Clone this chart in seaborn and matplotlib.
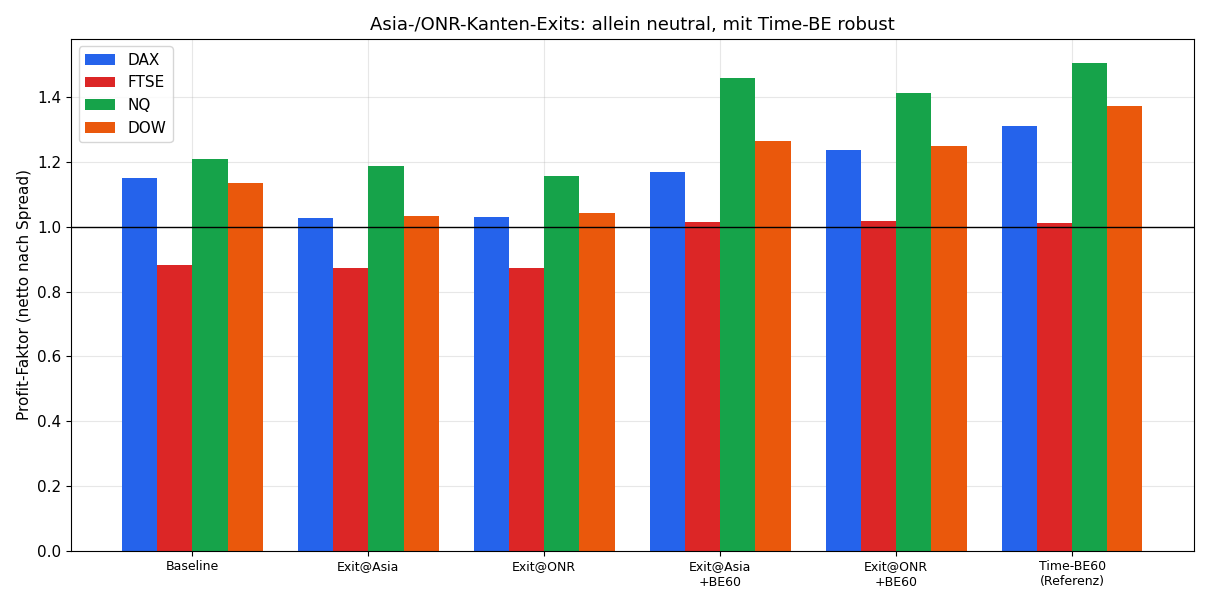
import numpy as np
import pandas as pd
import matplotlib
matplotlib.use('Agg')
import matplotlib.pyplot as plt
import seaborn as sns

plt.rcParams['font.size'] = 11

# Varianten und Profit-Faktoren (netto nach Spread)
variants = ['Baseline', 'Exit@Asia', 'Exit@ONR', 'Exit@Asia\n+BE60', 'Exit@ONR\n+BE60', 'Time-BE60\n(Referenz)']
markets = ['DAX', 'FTSE', 'NQ', 'DOW']
pf_dax = [1.149, 1.028, 1.031, 1.168, 1.236, 1.310]
pf_ftse = [0.883, 0.873, 0.873, 1.016, 1.019, 1.013]
pf_nq = [1.208, 1.189, 1.158, 1.459, 1.412, 1.505]
pf_dow = [1.134, 1.034, 1.041, 1.264, 1.248, 1.372]
colors = ['#2563EB', '#DC2626', '#16A34A', '#EA580C']

df = pd.DataFrame({
    'variant': variants * 4,
    'market': np.repeat(markets, len(variants)),
    'pf': pf_dax + pf_ftse + pf_nq + pf_dow,
})

fig, ax = plt.subplots(figsize=(12.1, 6.05), dpi=100)
sns.barplot(data=df, x='variant', y='pf', hue='market', hue_order=markets,
            order=variants, palette=colors, saturation=1, width=0.8, ax=ax, zorder=2)
ax.axhline(1.0, color='black', linewidth=1, zorder=3)
ax.grid(True, alpha=0.3, zorder=0)
ax.set_axisbelow(True)
ax.set_xlim(-0.69, 5.69)
ax.set_ylim(0, 1.58)
ax.set_xlabel('')
ax.set_ylabel('Profit-Faktor (netto nach Spread)')
ax.set_title('Asia-/ONR-Kanten-Exits: allein neutral, mit Time-BE robust', fontsize=13)
ax.tick_params(axis='x', labelsize=9)
ax.legend(loc='upper left', title=None)

plt.tight_layout()
plt.savefig('out.png', dpi=100)
